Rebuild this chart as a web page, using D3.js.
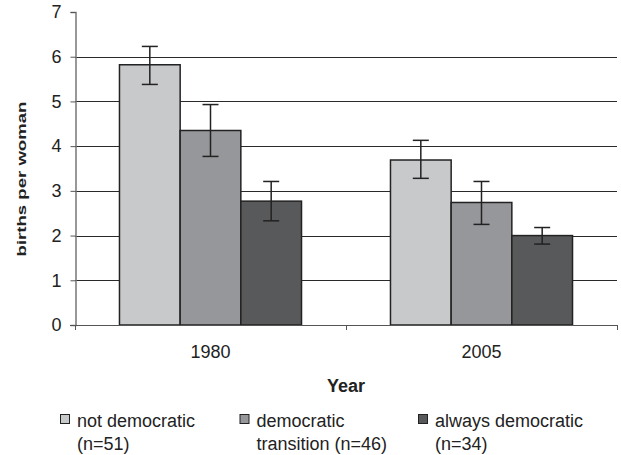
<!DOCTYPE html>
<html>
<head>
<meta charset="utf-8">
<script src="https://cdn.jsdelivr.net/npm/d3@7"></script>
<style>
  html, body { margin: 0; padding: 0; background: #fff; }
  svg { display: block; font-family: Arial, "Liberation Sans", sans-serif; }
</style>
</head>
<body>
<svg id="chart" width="621" height="455"></svg>
<script>
// Fertility by regime type, 1980 vs 2005
const years = ["1980", "2005"];
const groups = ["not democratic", "democratic transition", "always democratic"];
const legendLines = [["not democratic", "(n=51)"], ["democratic", "transition (n=46)"], ["always democratic", "(n=34)"]];
const colors = ["#c8c9cb", "#96979a", "#58595b"];
// mean births per woman, rows = year, columns = group
const means = [[5.82, 4.35, 2.77], [3.69, 2.74, 2.00]];
const lows  = [[5.38, 3.77, 2.33], [3.28, 2.25, 1.81]];
const highs = [[6.23, 4.93, 3.21], [4.13, 3.21, 2.18]];
const yTicks = [0, 1, 2, 3, 4, 5, 6, 7];

const svg = d3.select("#chart");
const plotLeft = 75, plotRight = 617, plotTop = 12, plotBottom = 325;
const FONT = "Arial, 'Liberation Sans', sans-serif";

const x0 = d3.scaleBand().domain(years).range([plotLeft, plotRight]).padding(0);
const x1 = d3.scaleBand().domain(groups).range([0, x0.bandwidth()])
  .paddingInner(0).paddingOuter(0.733);
const y = d3.scaleLinear().domain([0, 7]).range([plotBottom, plotTop]);

// horizontal gridlines
svg.append("g").selectAll("line").data(yTicks.filter(t => t > 0 && t < 7)).join("line")
  .attr("x1", plotLeft).attr("x2", plotRight)
  .attr("y1", d => Math.round(y(d)) + 0.5).attr("y2", d => Math.round(y(d)) + 0.5)
  .attr("stroke", "#2a2a2a").attr("stroke-width", 1);

// bars
const rows = years.flatMap((yr, i) => groups.map((g, j) => ({
  yr, g, j, v: means[i][j], lo: lows[i][j], hi: highs[i][j]
})));

svg.append("g").selectAll("rect").data(rows).join("rect")
  .attr("x", d => x0(d.yr) + x1(d.g))
  .attr("y", d => y(d.v))
  .attr("width", x1.bandwidth())
  .attr("height", d => y(0) - y(d.v))
  .attr("fill", d => colors[d.j])
  .attr("stroke", "#222").attr("stroke-width", 1.5);

// error bars
const eb = svg.append("g").attr("stroke", "#222").attr("stroke-width", 1.5);
rows.forEach(d => {
  const cx = x0(d.yr) + x1(d.g) + x1.bandwidth() / 2;
  eb.append("line").attr("x1", cx).attr("x2", cx).attr("y1", y(d.hi)).attr("y2", y(d.lo));
  eb.append("line").attr("x1", cx - 8).attr("x2", cx + 8).attr("y1", y(d.hi)).attr("y2", y(d.hi));
  eb.append("line").attr("x1", cx - 8).attr("x2", cx + 8).attr("y1", y(d.lo)).attr("y2", y(d.lo));
});

// y axis
const yAxis = svg.append("g").attr("transform", `translate(${plotLeft + 0.5},0)`)
  .call(d3.axisLeft(y).tickValues(yTicks).tickSize(5).tickPadding(9).tickFormat(d3.format("d")));
yAxis.select(".domain").attr("stroke", "#777").attr("stroke-width", 1.5);
yAxis.selectAll(".tick line").attr("stroke", "#555");
yAxis.selectAll(".tick text").attr("font-size", 18).attr("fill", "#222").attr("font-family", FONT);

// x axis
const xAxis = svg.append("g").attr("transform", `translate(0,${plotBottom + 0.5})`)
  .call(d3.axisBottom(x0).tickSize(0).tickPadding(19.5));
xAxis.select(".domain").remove();
svg.append("line").attr("x1", plotLeft - 5).attr("x2", plotRight).attr("y1", plotBottom + 0.5).attr("y2", plotBottom + 0.5)
  .attr("stroke", "#555").attr("stroke-width", 1);
svg.append("g").selectAll("line").data([plotLeft, x0("2005"), plotRight]).join("line")
  .attr("x1", d => d + 0.5).attr("x2", d => d + 0.5)
  .attr("y1", plotBottom).attr("y2", plotBottom + 5)
  .attr("stroke", "#555");
xAxis.selectAll(".tick text").attr("font-size", 18).attr("fill", "#222").attr("font-family", FONT);

// axis titles
svg.append("text").attr("x", (plotLeft + plotRight) / 2).attr("y", 392).attr("text-anchor", "middle")
  .attr("font-size", 18).attr("font-weight", "bold").attr("fill", "#222").text("Year");
svg.append("text").attr("transform", "translate(25.5,179) rotate(-90) scale(1.43,1)").attr("text-anchor", "middle")
  .attr("font-size", 13).attr("font-weight", "bold").attr("fill", "#222").text("births per woman");

// legend
const legendX = [60.5, 240, 418.5];
const lg = svg.append("g").selectAll("g").data(groups).join("g")
  .attr("transform", (d, i) => `translate(${legendX[i]},0)`);
lg.append("rect").attr("x", 0).attr("y", 414.5).attr("width", 9).attr("height", 9)
  .attr("fill", (d, i) => colors[i]).attr("stroke", "#222").attr("stroke-width", 1);
lg.each(function (d, i) {
  const t = d3.select(this).append("text").attr("font-size", 18).attr("fill", "#222");
  legendLines[i].forEach((ln, k) => {
    t.append("tspan").attr("x", 16.5).attr("y", 426.5 + k * 23).text(ln);
  });
});
</script>
</body>
</html>
